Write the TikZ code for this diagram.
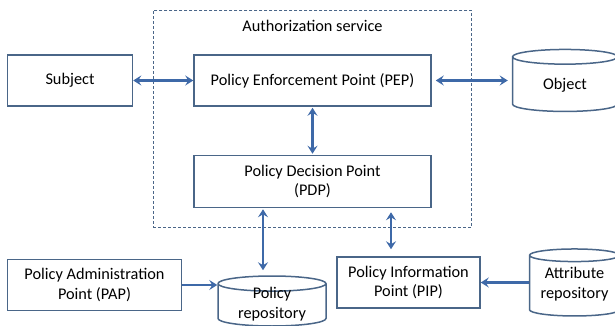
\documentclass[tikz,border=0pt]{standalone}
\usepackage{fontspec}
\setmainfont{Carlito}
\usetikzlibrary{positioning,shapes.geometric,arrows.meta,fit}
\definecolor{boxline}{HTML}{4A6688}
\definecolor{linkblue}{HTML}{3E69A8}

\begin{document}
\begin{tikzpicture}[
    x=1pt, y=1pt,
    font=\fontsize{16.3}{19.5}\selectfont,
    box/.style={rectangle, draw=boxline, line width=1.5pt, align=center, minimum height=51pt, inner sep=0pt},
    store/.style={cylinder, shape border rotate=90, aspect=0.14, draw=boxline, line width=1.5pt, inner sep=0pt},
    link/.style={draw=linkblue, line width=2.2pt, -{Stealth[length=8pt,width=10pt,inset=3pt]}},
    twolink/.style={link, {Stealth[length=8pt,width=10pt,inset=3pt]}-{Stealth[length=8pt,width=10pt,inset=3pt]}},
    ]
    \useasboundingbox (0,0) rectangle (615,-326);

    %Nodes
    \node[box, minimum width=237pt] (pep) at (312.5,-80.5)        {Policy Enforcement Point (PEP)};
    \node[box, minimum width=125pt] (subject) [left=60pt of pep]  {Subject};
    \node[box, minimum width=237pt, minimum height=52pt] (pdp) [below=48pt of pep] {Policy Decision Point\\(PDP)};
    \node[store, minimum height=62pt, label={[align=center, yshift=-1pt]center:Object}] (object) [right=80pt of pep, yshift=-4pt] {\hspace*{105pt}};
    \node[above=19pt of pep] (title) {Authorization service};

    \node[box, minimum width=143pt] (pip) [below=48pt of pdp, xshift=96pt] {Policy Information\\Point (PIP)};
    \node[store, minimum height=50pt, label={[align=center, yshift=1pt]center:Policy\\repository}] (repo) [below=67pt of pdp, xshift=-40.5pt] {\hspace*{108pt}};
    \node[box, minimum width=174pt] (pap) [below=152pt of subject.south west, anchor=north west] {Policy Administration\\Point (PAP)};
    \node[store, minimum height=67pt, label={[align=center, yshift=2pt]center:Attribute\\repository}] (attr) [right=48pt of pip, yshift=-3.5pt] {\hspace*{90pt}};

    % Dashed frame round the service
    \node[draw=boxline, line width=1pt, dash pattern=on 3pt off 2pt, inner sep=0pt, fit={([xshift=-40pt,yshift=44pt]pep.north west) ([xshift=40pt,yshift=-19pt]pdp.south east)}] (service) {};

    %Lines
    \draw[twolink] (subject.east) -- (pep.west);
    \draw[twolink, shorten <=4pt, shorten >=4pt] (pep.east) -- (pep.east -| object.west);
    \draw[twolink, shorten <=1pt, shorten >=1pt] (pep.south) -- (pdp.north);
    \draw[twolink, shorten <=1pt, shorten >=5pt] ([xshift=-9pt]repo.north |- pdp.south) -- ([xshift=-9pt]repo.north);
    \draw[twolink, shorten <=4pt, shorten >=7pt] ([xshift=-17.5pt]pip.north |- pdp.south) -- ([xshift=-17.5pt]pip.north);
    \draw[link] (pap.east) -- (pap.east -| repo.west);
    \draw[link] (attr.west |- pip.east) -- (pip.east);
\end{tikzpicture}
\end{document}
